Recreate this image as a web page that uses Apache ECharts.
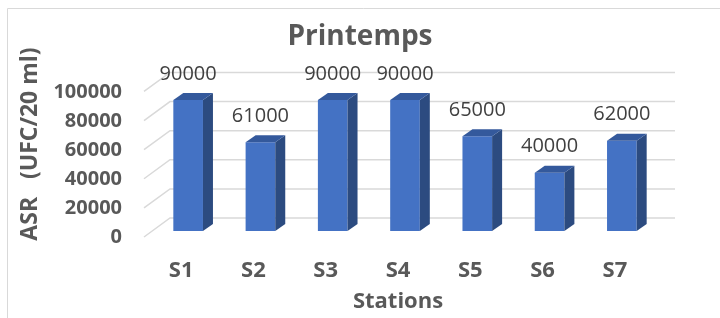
<!DOCTYPE html>
<html>
<head>
<meta charset="utf-8">
<script src="https://cdn.jsdelivr.net/npm/echarts@6/dist/echarts.min.js"></script>
<style>
  html, body { margin: 0; padding: 0; background: #fff; }
  #chart { width: 720px; height: 318px; }
</style>
</head>
<body>
<div id="chart"></div>
<script>
// données
var stations = ['S1', 'S2', 'S3', 'S4', 'S5', 'S6', 'S7'];
var asrValues = [90000, 61000, 90000, 90000, 65000, 40000, 62000];
var yTicks = [0, 20000, 40000, 60000, 80000, 100000];

var chart = echarts.init(document.getElementById('chart'));

// lignes de quadrillage sur le fond (effet 3D)
function renderWall(params, api) {
    var cs = params.coordSys;
    var y = api.coord([0, api.value(1)])[1];
    return {
        type: 'polyline',
        shape: {
            points: [
                [cs.x - 8, y + 6],
                [cs.x + 18, y - 13],
                [cs.x + cs.width + 17, y - 13]
            ]
        },
        style: { stroke: '#d9d9d9', lineWidth: 1.5, fill: null },
        silent: true
    };
}

// barre 3D : face avant, côté, dessus + étiquette
function renderBar(params, api) {
    var idx = api.value(0);
    var base = api.coord([idx, 0]);
    var top = api.coord([idx, api.value(1)]);
    var w = api.size([1, 0])[0] * 0.41;
    var x0 = top[0] - w / 2, x1 = top[0] + w / 2;
    var dx = 10, dy = 7;
    return {
        type: 'group',
        children: [
            {
                type: 'rect',
                shape: { x: x0, y: top[1], width: w, height: base[1] - top[1] },
                style: { fill: '#4472c4' }
            },
            {
                type: 'polygon',
                shape: { points: [[x1, top[1]], [x1 + dx, top[1] - dy], [x1 + dx, base[1] - dy], [x1, base[1]]] },
                style: { fill: '#2c4b80' }
            },
            {
                type: 'polygon',
                shape: { points: [[x0, top[1]], [x0 + dx, top[1] - dy], [x1 + dx, top[1] - dy], [x1, top[1]]] },
                style: { fill: '#34599c' }
            },
            {
                type: 'text',
                style: {
                    x: top[0], y: top[1] - 26,
                    text: String(api.value(1)),
                    align: 'center', verticalAlign: 'middle',
                    font: '20px "Open Sans"', fill: '#404040'
                }
            }
        ]
    };
}

var option = {
    animation: false,
    title: {
        text: 'Printemps',
        left: 'center',
        top: 18,
        textStyle: { fontFamily: 'Open Sans', fontSize: 28, fontWeight: 'bold', color: '#595959' }
    },
    graphic: [
        {
            type: 'polyline',
            shape: { points: [[7.5, 318], [7.5, 8.5], [720, 8.5]] },
            style: { stroke: '#d9d9d9', lineWidth: 1, fill: null }
        },
        {
            type: 'text',
            x: 30, y: 144, rotation: Math.PI / 2,
            style: {
                text: 'ASR   (UFC/20 ml)',
                align: 'center', verticalAlign: 'middle',
                font: 'bold 23px "Open Sans"', fill: '#595959'
            }
        }
    ],
    grid: { left: 152, right: 62, top: 85.4, bottom: 87 },
    xAxis: {
        type: 'category',
        data: stations,
        axisLine: { show: false },
        axisTick: { show: false },
        axisLabel: {
            margin: 29,
            padding: [0, 14, 0, 0],
            fontFamily: 'Open Sans', fontSize: 22, fontWeight: 'bold', color: '#595959'
        },
        name: 'Stations',
        nameLocation: 'middle',
        nameGap: 60,
        nameTextStyle: { fontFamily: 'Open Sans', fontSize: 22, fontWeight: 'bold', color: '#595959', padding: [0, 14, 0, 0] }
    },
    yAxis: {
        type: 'value',
        min: 0, max: 100000, interval: 20000,
        axisLine: { show: false },
        axisTick: { show: false },
        splitLine: { show: false },
        axisLabel: {
            margin: 30,
            verticalAlign: 'top',
            lineHeight: 13,
            formatter: function (v) { return String(v); },
            fontFamily: 'Open Sans', fontSize: 20, fontWeight: 'bold', color: '#595959'
        }
    },
    series: [
        {
            type: 'custom',
            z: 1,
            renderItem: renderWall,
            data: yTicks.map(function (v) { return [0, v]; })
        },
        {
            type: 'custom',
            z: 2,
            renderItem: renderBar,
            data: asrValues.map(function (v, i) { return [i, v]; })
        }
    ]
};

chart.setOption(option);
</script>
</body>
</html>
